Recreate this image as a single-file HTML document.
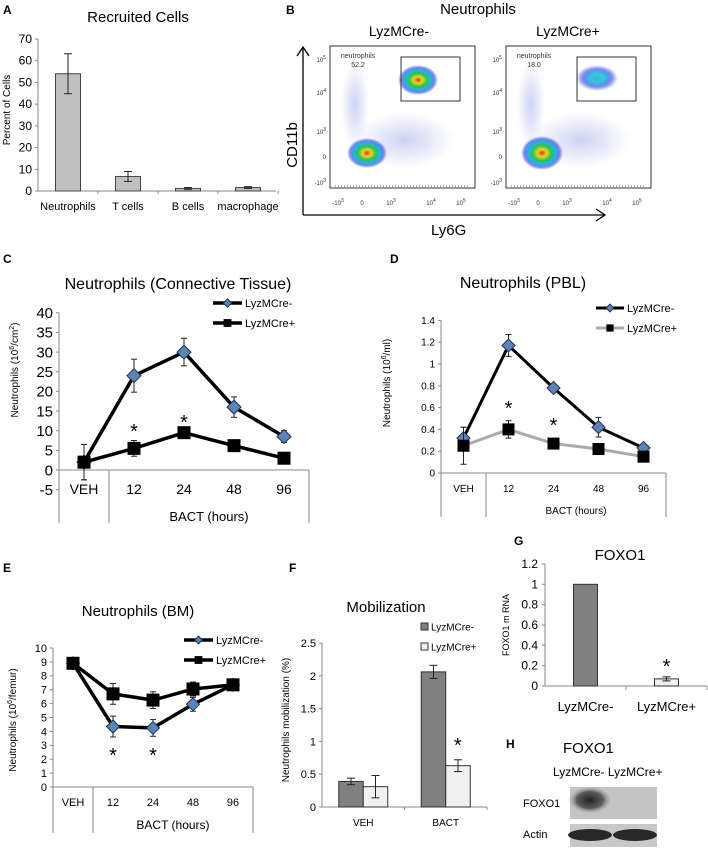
<!DOCTYPE html>
<html><head><meta charset="utf-8">
<style>
html,body{margin:0;padding:0;background:#fff;}
svg{display:block;font-family:"Liberation Sans",sans-serif;}
</style></head>
<body>
<svg id="fig" width="708" height="861" viewBox="0 0 708 861" xmlns="http://www.w3.org/2000/svg">
<defs>
<radialGradient id="hot" cx="50%" cy="50%" r="50%">
<stop offset="0" stop-color="#e83020"/>
<stop offset="0.22" stop-color="#e8d820"/>
<stop offset="0.45" stop-color="#30c050"/>
<stop offset="0.65" stop-color="#20b8e0"/>
<stop offset="0.85" stop-color="#2840e0" stop-opacity="0.6"/>
<stop offset="1" stop-color="#2840e0" stop-opacity="0"/>
</radialGradient>
<radialGradient id="cool" cx="50%" cy="50%" r="50%">
<stop offset="0" stop-color="#40b0d8"/>
<stop offset="0.35" stop-color="#30c8e0"/>
<stop offset="0.7" stop-color="#2840e0" stop-opacity="0.6"/>
<stop offset="1" stop-color="#2840e0" stop-opacity="0"/>
</radialGradient>
<radialGradient id="haze" cx="50%" cy="50%" r="50%">
<stop offset="0" stop-color="#7080e0" stop-opacity="0.35"/>
<stop offset="1" stop-color="#7080e0" stop-opacity="0"/>
</radialGradient>
<radialGradient id="smudge" cx="50%" cy="50%" r="50%">
<stop offset="0" stop-color="#202020"/>
<stop offset="0.6" stop-color="#404040" stop-opacity="0.8"/>
<stop offset="1" stop-color="#b8b8b8" stop-opacity="0"/>
</radialGradient>
</defs>

<!-- Panel A -->
<g>
<text x="3" y="14" font-weight="bold" font-size="12">A</text>
<text x="138" y="22" font-size="15" text-anchor="middle">Recruited Cells</text>
<text transform="translate(10,110) rotate(-90)" font-size="10" text-anchor="middle">Percent of Cells</text>
<g id="gA"></g>
</g>

<!-- Panel B -->
<g>
<text x="286" y="14" font-weight="bold" font-size="12">B</text>
<text x="478" y="14" font-size="15" text-anchor="middle">Neutrophils</text>
<text x="399" y="36" font-size="14" text-anchor="middle">LyzMCre-</text>
<text x="568" y="36" font-size="14" text-anchor="middle">LyzMCre+</text>
<line x1="303" y1="215" x2="303" y2="48" stroke="#000" stroke-width="1.3"/>
<polyline points="297,56 303,47 309,56" fill="none" stroke="#000" stroke-width="1.3"/>
<line x1="303" y1="215" x2="604" y2="215" stroke="#000" stroke-width="1.3"/>
<polyline points="596,209 605,215 596,221" fill="none" stroke="#000" stroke-width="1.3"/>
<text transform="translate(297,145) rotate(-90)" font-size="15" text-anchor="middle">CD11b</text>
<text x="431" y="235" font-size="15">Ly6G</text>
<g id="gB"></g>
</g>

<!-- Panel C -->
<g>
<text x="3" y="263" font-weight="bold" font-size="12">C</text>
<text x="178" y="289" font-size="16" text-anchor="middle">Neutrophils (Connective Tissue)</text>
<text transform="translate(18,370) rotate(-90)" font-size="10" text-anchor="middle">Neutrophils (10<tspan font-size="7" dy="-4">6</tspan><tspan dy="4">/cm</tspan><tspan font-size="7" dy="-4">2</tspan><tspan dy="4">)</tspan></text>
<g id="gC"></g>
</g>

<!-- Panel D -->
<g>
<text x="390" y="263" font-weight="bold" font-size="12">D</text>
<text x="523" y="288" font-size="16" text-anchor="middle">Neutrophils (PBL)</text>
<text transform="translate(390,383) rotate(-90)" font-size="10" text-anchor="middle">Neutrophils (10<tspan font-size="7" dy="-4">6</tspan><tspan dy="4">/ml)</tspan></text>
<g id="gD"></g>
</g>

<!-- Panel E -->
<g>
<text x="3" y="572" font-weight="bold" font-size="12">E</text>
<text x="138" y="616" font-size="15" text-anchor="middle">Neutrophils (BM)</text>
<text transform="translate(16,720) rotate(-90)" font-size="10" text-anchor="middle">Neutrophils (10<tspan font-size="7" dy="-4">6</tspan><tspan dy="4">/femur)</tspan></text>
<g id="gE"></g>
</g>

<!-- Panel F -->
<g>
<text x="289" y="572" font-weight="bold" font-size="12">F</text>
<text x="386" y="612" font-size="15" text-anchor="middle">Mobilization</text>
<text transform="translate(289,720) rotate(-90)" font-size="10" text-anchor="middle">Neutrophils mobilization (%)</text>
<g id="gF"></g>
</g>

<!-- Panel G -->
<g>
<text x="514" y="545" font-weight="bold" font-size="12">G</text>
<text x="620" y="560" font-size="15" text-anchor="middle">FOXO1</text>
<text transform="translate(509,625) rotate(-90)" font-size="9" text-anchor="middle">FOXO1 m RNA</text>
<g id="gG"></g>
</g>

<!-- Panel H -->
<g>
<text x="506" y="748" font-weight="bold" font-size="12">H</text>
<text x="563" y="753" font-size="15">FOXO1</text>
<text x="553" y="776" font-size="12">LyzMCre- LyzMCre+</text>
<text x="523" y="807" font-size="11">FOXO1</text>
<text x="523" y="838" font-size="11">Actin</text>
<rect x="570" y="787" width="87" height="32" fill="#c4c4c4"/>
<ellipse cx="590" cy="800" rx="22" ry="14" fill="url(#smudge)"/>
<rect x="570" y="824" width="87" height="23" fill="#c8c8c8"/>
<ellipse cx="590" cy="835" rx="22" ry="6" fill="#282828"/>
<ellipse cx="635" cy="835" rx="22" ry="6" fill="#282828"/>
</g>
</svg>

<script>
const NS='http://www.w3.org/2000/svg';
function mk(parent,tag,attrs,text){const e=document.createElementNS(NS,tag);for(const k in attrs)e.setAttribute(k,attrs[k]);if(text!==undefined)e.textContent=text;parent.appendChild(e);return e;}

// ---- Data ----
const aCats=['Neutrophils','T cells','B cells','macrophage'];
const aVals=[54,6.7,1.2,1.6];
const aErr=[9.2,2.3,0.4,0.4];
const aTicks=[0,10,20,30,40,50,60,70];

const timeCats=['VEH','12','24','48','96'];
const cMinus=[2,24,30,16,8.5];
const cMinusErr=[4.5,4.2,3.5,2.6,1.5];
const cPlus=[2,5.5,9.5,6.2,3];
const cPlusErr=[4.5,2,1.2,1,0.6];
const cTicks=[-5,0,5,10,15,20,25,30,35,40];

const dMinus=[0.32,1.17,0.78,0.42,0.23];
const dMinusErr=[0.1,0.1,0.03,0.09,0.02];
const dPlus=[0.25,0.40,0.27,0.22,0.15];
const dPlusErr=[0.17,0.08,0.04,0.02,0.02];
const dTicks=[0,0.2,0.4,0.6,0.8,1,1.2,1.4];

const eMinus=[8.9,4.35,4.25,5.95,7.35];
const eMinusErr=[0,0.75,0.6,0.5,0];
const ePlus=[8.9,6.7,6.25,7.05,7.35];
const ePlusErr=[0,0.75,0.6,0.5,0];
const eTicks=[0,1,2,3,4,5,6,7,8,9,10];

const fCats=['VEH','BACT'];
const fMinus=[0.39,2.06];
const fMinusErr=[0.05,0.1];
const fPlus=[0.31,0.63];
const fPlusErr=[0.17,0.09];
const fTicks=[0,0.5,1,1.5,2,2.5];

const gCats=['LyzMCre-','LyzMCre+'];
const gVals=[1.0,0.07];
const gErr=[0,0.02];
const gTicks=[0,0.2,0.4,0.6,0.8,1,1.2];

function fmt(v){return (''+(+v.toFixed(2)));}

function errBar(g,x,y1,y2,cap){
  const e=mk(g,'g',{stroke:'#222','stroke-width':1});
  
  
  mk(e,'line',{x1:x,y1:y1,x2:x,y2:y2});
  mk(e,'line',{x1:x-cap,y1:y1,x2:x+cap,y2:y1});
  mk(e,'line',{x1:x-cap,y1:y2,x2:x+cap,y2:y2});
}

// ---- Panel A ----
(function(){
  const g=document.getElementById('gA');
  const x0=38,cw=60,y0=191,k=152/70;
  const Y=v=>y0-v*k;
  mk(g,'line',{x1:x0,y1:Y(70),x2:x0,y2:y0,stroke:'#888'});
  mk(g,'line',{x1:x0,y1:y0,x2:x0+cw*4-2,y2:y0,stroke:'#888'});
  aTicks.forEach(t=>{
    mk(g,'line',{x1:x0-3,y1:Y(t),x2:x0,y2:Y(t),stroke:'#888'});
    const tl=mk(g,'text',{x:x0-6,y:Y(t)+4,'font-size':12,'text-anchor':'end'},t);
    
    
  });
  aCats.forEach((c,i)=>{
    const cx=x0+cw*(i+0.5);
    mk(g,'line',{x1:x0+cw*(i+1),y1:y0,x2:x0+cw*(i+1),y2:y0+3,stroke:'#888'});
    const b=mk(g,'rect',{x:cx-12.5,y:Y(aVals[i]),width:25,height:aVals[i]*k,fill:'#c0c0c0',stroke:'#444','stroke-width':1});
    
    
    errBar(g,cx,Y(aVals[i]+aErr[i]),Y(aVals[i]-aErr[i]),4);
    const l=mk(g,'text',{x:cx,y:210,'font-size':11,'text-anchor':'middle'},c);
    
    
  });
})();

// ---- Panel B (flow cytometry) ----
(function(){
  const g=document.getElementById('gB');
  const plots=[{x:330,pct:'52.2',lo:[367,153,20,15],hi:[418,80,20,15],hiG:'hot'},
               {x:506,pct:'18.0',lo:[542,153,21,17],hi:[597,78,21,13],hiG:'cool'}];
  plots.forEach((p,idx)=>{
    const pg=mk(g,'g',{});
    
    
    mk(pg,'rect',{x:p.x,y:46,width:145,height:142,fill:'#fff',stroke:'#333','stroke-width':1});
    mk(pg,'ellipse',{cx:p.x+25,cy:105,rx:14,ry:45,fill:'url(#haze)'});
    mk(pg,'ellipse',{cx:p.x+75,cy:140,rx:50,ry:28,fill:'url(#haze)'});
    mk(pg,'ellipse',{cx:p.lo[0],cy:p.lo[1],rx:p.lo[2],ry:p.lo[3],fill:'url(#hot)'});
    mk(pg,'ellipse',{cx:p.hi[0],cy:p.hi[1],rx:p.hi[2],ry:p.hi[3],fill:'url(#'+p.hiG+')'});
    const gate=mk(pg,'rect',{x:p.x+71,y:57,width:59,height:44,fill:'none',stroke:'#333','stroke-width':1});
    
    
    mk(pg,'text',{x:p.x+28,y:58,'font-size':7,'text-anchor':'middle',fill:'#333'},'neutrophils');
    mk(pg,'text',{x:p.x+28,y:67,'font-size':7,'text-anchor':'middle',fill:'#333'},p.pct);
    const yl=[['10','5',60],['10','4',93],['10','3',132],['0','',157],['-10','3',183]];
    yl.forEach(t=>{const tt=mk(pg,'text',{x:p.x-4,y:t[2]+2,'font-size':6,'text-anchor':'end',fill:'#333'},t[0]);
      if(t[1]){mk(tt,'tspan',{dy:-3,'font-size':5},t[1]);}
    });
    const xl=[['-10','3',8],['0','',32],['10','3',61],['10','4',101],['10','5',131]];
    xl.forEach(t=>{const tt=mk(pg,'text',{x:p.x+t[2],y:205,'font-size':6,'text-anchor':'middle',fill:'#333'},t[0]);
      if(t[1]){mk(tt,'tspan',{dy:-3,'font-size':5},t[1]);}
    });
    mk(pg,'line',{x1:p.x+5,y1:186,x2:p.x+140,y2:186,stroke:'#555','stroke-dasharray':'1 2'});
  });
})();

// ---- Line chart helper ----
function lineChart(gid,cfg){
  const g=document.getElementById(gid);
  const {x0,cw,yZero,k,ticks,tickFs,sepBottom,labelY,bactY,minus,minusErr,plus,plusErr,plusColor,mk1,mk2,lw,legend,stars,catFs,bactFs}=cfg;
  const Y=v=>yZero-v*k;
  const X=i=>x0+cw*(i+0.5);
  const yTop=Y(ticks[ticks.length-1]);
  const yMin=Y(ticks[0]);
  mk(g,'line',{x1:x0,y1:yTop,x2:x0,y2:Math.max(yMin,sepBottom),stroke:'#888'});
  mk(g,'line',{x1:x0,y1:yZero,x2:x0+cw*5,y2:yZero,stroke:'#888'});
  mk(g,'line',{x1:x0+cw,y1:yZero,x2:x0+cw,y2:sepBottom,stroke:'#888'});
  mk(g,'line',{x1:x0+cw*5,y1:yZero,x2:x0+cw*5,y2:sepBottom,stroke:'#888'});
  ticks.forEach(t=>{
    mk(g,'line',{x1:x0-3,y1:Y(t),x2:x0,y2:Y(t),stroke:'#888'});
    const tl=mk(g,'text',{x:x0-6,y:Y(t)+tickFs*0.35,'font-size':tickFs,'text-anchor':'end'},fmt(t));
    
    
  });
  timeCats.forEach((c,i)=>{
    const tl=mk(g,'text',{x:X(i),y:labelY,'font-size':catFs,'text-anchor':'middle'},c);
    
    
  });
  const bt=mk(g,'text',{x:x0+cw*3,y:bactY,'font-size':bactFs,'text-anchor':'middle'},'BACT (hours)');
  
  
  function series(vals,errs,color,marker,name){
    const sg=mk(g,'g',{});
    
    
    vals.forEach((v,i)=>{ if(errs[i]>0) errBar(sg,X(i),Y(v+errs[i]),Y(v-errs[i]),3); });
    mk(sg,'polyline',{points:vals.map((v,i)=>X(i)+','+Y(v)).join(' '),fill:'none',stroke:color,'stroke-width':lw,'stroke-linejoin':'round'});
    vals.forEach((v,i)=>{
      let m;
      if(marker.t==='d'){const s=marker.s;m=mk(sg,'polygon',{points:`${X(i)},${Y(v)-s} ${X(i)+s},${Y(v)} ${X(i)},${Y(v)+s} ${X(i)-s},${Y(v)}`,fill:'#5b84b8',stroke:'#1e3050','stroke-width':1});}
      else {const s=marker.s;m=mk(sg,'rect',{x:X(i)-s,y:Y(v)-s,width:2*s,height:2*s,fill:'#000'});}
      
      
    });
  }
  series(minus,minusErr,'#000',mk1,'lyzmcre-minus');
  series(plus,plusErr,plusColor,mk2,'lyzmcre-plus');
  stars.forEach(s=>{
    const st=mk(g,'text',{x:X(s[0]),y:s[1],'font-size':20,'text-anchor':'middle'},'*');
    
    
  });
  const lg=mk(g,'g',{});
  
  
  [[legend.y1,'#000',mk1,'LyzMCre-'],[legend.y2,plusColor,mk2,'LyzMCre+']].forEach(e=>{
    const eg=mk(lg,'g',{});
    
    
    mk(eg,'line',{x1:legend.x,y1:e[0],x2:legend.x+legend.w,y2:e[0],stroke:e[1],'stroke-width':lw});
    const cx=legend.x+legend.w/2,s=e[2].s*0.6;
    if(e[2].t==='d') mk(eg,'polygon',{points:`${cx},${e[0]-s} ${cx+s},${e[0]} ${cx},${e[0]+s} ${cx-s},${e[0]}`,fill:'#5b84b8',stroke:'#1e3050'});
    else mk(eg,'rect',{x:cx-s,y:e[0]-s,width:2*s,height:2*s,fill:'#000'});
    mk(eg,'text',{x:legend.x+legend.w+3,y:e[0]+4,'font-size':legend.fs},e[3]);
  });
}

lineChart('gC',{x0:59,cw:50,yZero:470,k:3.93,ticks:cTicks,tickFs:15,sepBottom:523,labelY:494,bactY:521,
  minus:cMinus,minusErr:cMinusErr,plus:cPlus,plusErr:cPlusErr,plusColor:'#000',
  mk1:{t:'d',s:7},mk2:{t:'s',s:6.5},lw:3.5,catFs:14,bactFs:13,
  legend:{x:213,w:29,y1:303,y2:323,fs:11},stars:[[1,438],[2,429]]});

lineChart('gD',{x0:441,cw:45,yZero:473,k:109,ticks:dTicks,tickFs:10,sepBottom:517,labelY:492,bactY:514,
  minus:dMinus,minusErr:dMinusErr,plus:dPlus,plusErr:dPlusErr,plusColor:'#aaaaaa',
  mk1:{t:'d',s:6.5},mk2:{t:'s',s:6},lw:3,catFs:10,bactFs:10,
  legend:{x:596,w:28,y1:308,y2:328,fs:11},stars:[[1,415],[2,432]]});

lineChart('gE',{x0:53,cw:40,yZero:787,k:13.9,ticks:eTicks,tickFs:11,sepBottom:833,labelY:806,bactY:829,
  minus:eMinus,minusErr:eMinusErr,plus:ePlus,plusErr:ePlusErr,plusColor:'#000',
  mk1:{t:'d',s:6.5},mk2:{t:'s',s:6.5},lw:3.5,catFs:11,bactFs:12,
  legend:{x:184,w:29,y1:640,y2:660,fs:11},stars:[[1,762],[2,762]]});

// ---- Panel F ----
(function(){
  const g=document.getElementById('gF');
  const x0=322,cw=82.5,y0=807,k=65.6;
  const Y=v=>y0-v*k;
  mk(g,'line',{x1:x0,y1:Y(2.5),x2:x0,y2:y0,stroke:'#888'});
  mk(g,'line',{x1:x0,y1:y0,x2:x0+cw*2,y2:y0,stroke:'#888'});
  fTicks.forEach(t=>{
    mk(g,'line',{x1:x0-3,y1:Y(t),x2:x0,y2:Y(t),stroke:'#888'});
    const tl=mk(g,'text',{x:x0-6,y:Y(t)+4,'font-size':11,'text-anchor':'end'},fmt(t));
    
    
  });
  fCats.forEach((c,i)=>{
    const cx=x0+cw*(i+0.5);
    mk(g,'line',{x1:x0+cw*(i+1),y1:y0,x2:x0+cw*(i+1),y2:y0+3,stroke:'#888'});
    [[fMinus,fMinusErr,'#808080',-1,'minus'],[fPlus,fPlusErr,'#f0f0f0',0,'plus']].forEach(s=>{
      const bx=cx+s[3]*24.5;
      const b=mk(g,'rect',{x:bx,y:Y(s[0][i]),width:24.5,height:s[0][i]*k,fill:s[2],stroke:'#333'});
      
      
      errBar(g,bx+12.25,Y(s[0][i]+s[1][i]),Y(s[0][i]-s[1][i]),4);
    });
    const l=mk(g,'text',{x:cx,y:826,'font-size':10,'text-anchor':'middle'},c);
    
    
  });
  const st=mk(g,'text',{x:x0+cw*1.5+12,y:Y(fPlus[1]+fPlusErr[1])-8,'font-size':20,'text-anchor':'middle'},'*');
  
  
  [[627,'#808080','LyzMCre-'],[647,'#f0f0f0','LyzMCre+']].forEach(e=>{
    const eg=mk(g,'g',{});
    
    
    mk(eg,'rect',{x:421,y:e[0]-4,width:7,height:7,fill:e[1],stroke:'#333'});
    mk(eg,'text',{x:431,y:e[0]+3.5,'font-size':10},e[2]);
  });
})();

// ---- Panel G ----
(function(){
  const g=document.getElementById('gG');
  const x0=545,cw=81,y0=686,k=101.7;
  const Y=v=>y0-v*k;
  mk(g,'line',{x1:x0,y1:Y(1.2),x2:x0,y2:y0,stroke:'#888'});
  mk(g,'line',{x1:x0,y1:y0,x2:x0+cw*2,y2:y0,stroke:'#888'});
  gTicks.forEach(t=>{
    mk(g,'line',{x1:x0-3,y1:Y(t),x2:x0,y2:Y(t),stroke:'#888'});
    const tl=mk(g,'text',{x:x0-7,y:Y(t)+4,'font-size':12,'text-anchor':'end'},fmt(t));
    
    
  });
  const fills=['#808080','#f0f0f0'];
  gCats.forEach((c,i)=>{
    const cx=x0+cw*(i+0.5);
    mk(g,'line',{x1:x0+cw*(i+1),y1:y0,x2:x0+cw*(i+1),y2:y0+4,stroke:'#888'});
    const b=mk(g,'rect',{x:cx-12,y:Y(gVals[i]),width:24,height:gVals[i]*k,fill:fills[i],stroke:'#333'});
    
    
    if(gErr[i]>0) errBar(g,cx,Y(gVals[i]+gErr[i]),Y(gVals[i]-gErr[i]),4);
    const l=mk(g,'text',{x:cx,y:711,'font-size':13,'text-anchor':'middle'},c);
    
    
  });
  const st=mk(g,'text',{x:x0+cw*1.5,y:Y(gVals[1]+gErr[1])-4,'font-size':20,'text-anchor':'middle'},'*');
  
  
})();
</script>
</body></html>
